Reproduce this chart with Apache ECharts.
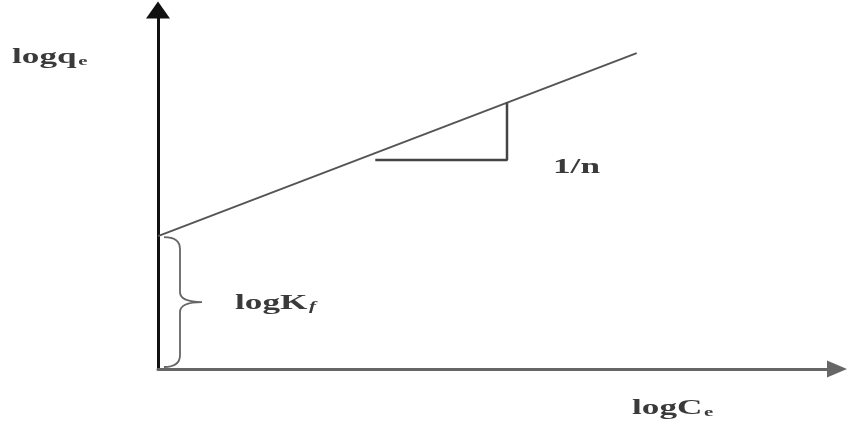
<!DOCTYPE html>
<html>
<head>
<meta charset="utf-8">
<title>Freundlich isotherm</title>
<script src="https://cdn.jsdelivr.net/npm/echarts@6/dist/echarts.min.js"></script>
<style>
  html, body { margin: 0; padding: 0; background: #fff; }
  #chart { width: 849px; height: 432px; }
</style>
</head>
<body>
<div id="chart"></div>
<script>
// schematic data (arbitrary units)
var isothermLine = [[0, 3.7], [7.05, 8.8]]
var slopeTriangle = [[3.2, 5.82], [5.14, 5.82], [5.14, 7.42]]
var interceptRange = [[0, 0, 3.7]]   // x, y from, y to

var chart = echarts.init(document.getElementById('chart'))

var serif = '"Liberation Serif", "DejaVu Serif", serif'
function label(x, y, rich) {
    return {
        type: 'text',
        x: x,
        y: y,
        scaleX: 1.6,
        style: {
            text: rich,
            fill: '#333',
            verticalAlign: 'middle',
            rich: {
                a: { fontFamily: serif, fontSize: 22, fontWeight: 'bold', fill: '#3a3a3a' },
                s: { fontFamily: serif, fontSize: 13, fontWeight: 'bold', fill: '#3a3a3a', padding: [9, 0, 0, 1] },
                f: { fontFamily: serif, fontSize: 13, fontStyle: 'italic', fontWeight: 'bold', fill: '#3a3a3a', padding: [8, 0, 0, 1] }
            }
        }
    }
}

var option = {
    animation: false,
    backgroundColor: '#fff',
    grid: { left: 158, right: 12, top: 10, bottom: 63 },
    xAxis: {
        type: 'value', min: 0, max: 10,
        axisLine: { lineStyle: { color: '#666', width: 3 }, symbol: ['none', 'triangle'], symbolSize: [17, 20] },
        axisTick: { show: false }, axisLabel: { show: false }, splitLine: { show: false }
    },
    yAxis: {
        type: 'value', min: 0, max: 10,
        axisLine: { show: true, lineStyle: { color: '#111', width: 3 }, symbol: ['none', 'triangle'], symbolSize: [24, 17] },
        axisTick: { show: false }, axisLabel: { show: false }, splitLine: { show: false }
    },
    series: [
        {
            type: 'line', data: isothermLine, symbol: 'none',
            lineStyle: { color: '#555', width: 2 }
        },
        {
            type: 'line', data: slopeTriangle, symbol: 'none',
            lineStyle: { color: '#444', width: 2.5 }
        },
        {
            type: 'custom',
            data: interceptRange,
            renderItem: function (params, api) {
                var top = api.coord([api.value(0), api.value(2)])
                var bot = api.coord([api.value(0), api.value(1)])
                var x0 = top[0] + 6, x1 = top[0] + 22, xt = top[0] + 44
                var y0 = top[1] + 1, y1 = bot[1] - 2, ym = (y0 + y1) / 2
                var d = 'M' + x0 + ' ' + y0 +
                    ' Q' + x1 + ' ' + y0 + ' ' + x1 + ' ' + (y0 + 12) +
                    ' L' + x1 + ' ' + (ym - 10) +
                    ' Q' + x1 + ' ' + ym + ' ' + xt + ' ' + ym +
                    ' Q' + x1 + ' ' + ym + ' ' + x1 + ' ' + (ym + 10) +
                    ' L' + x1 + ' ' + (y1 - 12) +
                    ' Q' + x1 + ' ' + y1 + ' ' + x0 + ' ' + y1
                return {
                    type: 'path',
                    shape: { pathData: d },
                    style: { fill: 'none', stroke: '#666', lineWidth: 1.8 }
                }
            }
        }
    ],
    graphic: [
        label(12, 57, '{a|logq}{s|e}'),
        label(235, 303, '{a|logK}{f|f}'),
        label(553, 167, '{a|1/n}'),
        label(632, 408, '{a|logC}{s|e}')
    ]
}

chart.setOption(option)
window.addEventListener('resize', function () { chart.resize() })
</script>
</body>
</html>
